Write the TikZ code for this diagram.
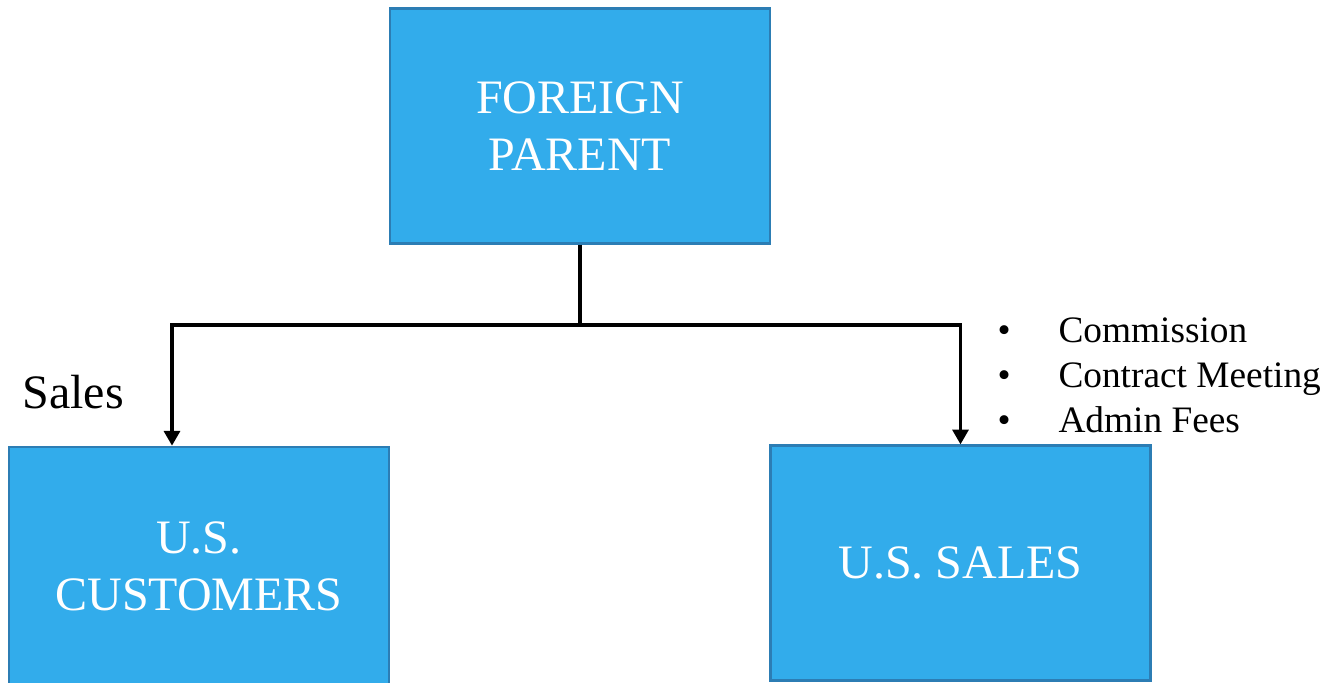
\documentclass[tikz,border=0pt]{standalone}
\usepackage{fontspec}
\setmainfont{Liberation Serif}
\usetikzlibrary{positioning,calc,arrows.meta}

\definecolor{boxfill}{RGB}{50,172,235}
\definecolor{boxedge}{RGB}{44,125,180}

\tikzset{
  entity/.style={draw=boxedge, fill=boxfill, line width=2pt, rectangle,
    minimum width=285pt, minimum height=176pt, inner sep=0pt,
    text=white, align=center, font=\fontsize{36}{43.2}\selectfont},
  fee/.style={anchor=base west, inner sep=0pt, font=\fontsize{28}{33.6}\selectfont}
}

\begin{document}
\begin{tikzpicture}[x=0.75pt, y=0.75pt, >={Triangle[width=12pt,length=11pt]}, line width=2.3pt]
    \useasboundingbox (0,0) rectangle (1335,682);

    \node [entity] (parent) at (580,556) {FOREIGN\\PARENT};
    \node [entity, minimum height=179pt] (cust) at (199,115.7) {U.S.\\CUSTOMERS};
    \node [entity] (sales) at (960.5,119) {U.S. SALES};
    \coordinate (split) at (580,357);

    \node [anchor=base west, inner sep=0pt, font=\fontsize{36}{43.2}\selectfont] (saleslbl) at (21,273) {Sales};

    % services paid to the U.S. sales arm
    \node [fee] (fee1) at (996,339) {\makebox[45.75pt][l]{\textbullet}Commission};
    \node [fee] (fee2) at (996,294) {\makebox[45.75pt][l]{\textbullet}Contract Meeting};
    \node [fee] (fee3) at (996,249) {\makebox[45.75pt][l]{\textbullet}Admin Fees};

    \draw (parent) -- (split);
    \draw [->] (split) -| ([xshift=-20.25pt]cust.north);
    \draw [->] (split) -| (sales);
\end{tikzpicture}
\end{document}
